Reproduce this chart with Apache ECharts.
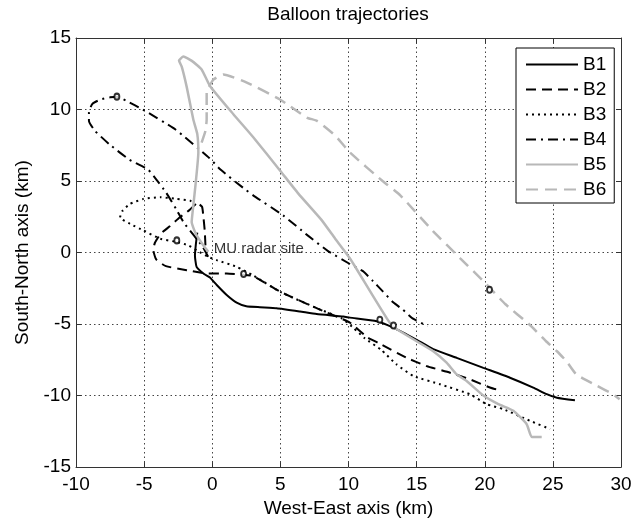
<!DOCTYPE html>
<html>
<head>
<meta charset="utf-8">
<script src="https://cdn.jsdelivr.net/npm/echarts@6/dist/echarts.min.js"></script>
<style>
html,body{margin:0;padding:0;background:#fff;}
#chart{width:644px;height:523px;}
</style>
</head>
<body>
<div id="chart"></div>
<script>
const seriesNames = ['B1','B2','B3','B4','B5','B6'];
const xTicks = [-10,-5,0,5,10,15,20,25,30];
const yTicks = [-15,-10,-5,0,5,10,15];

const b1 = [[-1.1,1.4],[-1.2,0.6],[-1.27,-0.2],[-1.15,-1.0],[-0.6,-1.5],[-0.17,-1.75],[0.33,-2.27],[1.06,-2.97],[1.79,-3.5],[2.5,-3.75],[3.5,-3.82],[4.73,-3.89],[6.44,-4.12],[7.66,-4.3],[9.62,-4.47],[10.1,-4.55],[12.07,-4.8],[13.29,-5.25],[15.0,-6.1],[16.22,-6.75],[17.94,-7.36],[19.9,-8.06],[21.85,-8.75],[23.56,-9.44],[24.55,-9.9],[25.3,-10.15],[26.62,-10.33]];

const b2 = [[-0.5,0.5],[-0.55,1.5],[-0.65,2.5],[-0.75,3.2],[-1.1,3.45],[-1.7,2.95],[-2.4,2.45],[-3.1,1.85],[-3.8,1.3],[-4.2,0.7],[-4.33,0.2],[-4.1,-0.5],[-3.4,-0.95],[-1.88,-1.23],[-0.41,-1.46],[1.06,-1.46],[2.28,-1.55],[3.01,-1.65],[4.97,-2.73],[7.66,-3.89],[10.1,-4.9],[11.34,-5.9],[12.19,-6.32],[14.27,-7.36],[15.74,-7.94],[17.45,-8.4],[18.92,-8.87],[20.88,-9.56],[21.24,-9.56]];

const b3 = [[-1.2,3.3],[-1.63,3.63],[-2.61,3.75],[-3.83,3.87],[-5.06,3.75],[-6.04,3.4],[-6.6,2.9],[-6.77,2.45],[-6.04,2.01],[-5.06,1.55],[-3.83,0.97],[-2.61,0.74],[-1.76,0.51],[-1.14,0.16],[-0.3,-0.3],[0.33,-0.53],[1.8,-1.0],[3.0,-1.6],[5.0,-2.75],[7.7,-3.9],[9.5,-4.6],[10.4,-5.3],[11.2,-6.0],[12.4,-6.8],[13.5,-7.8],[14.76,-8.63],[16.72,-9.21],[18.92,-9.91],[20.14,-10.6],[21.36,-10.95],[23.32,-11.76],[24.79,-12.34]];

const b4 = [[-0.3,-0.3],[-0.7,0.4],[-1.1,0.9],[-1.6,1.5],[-2.1,2.1],[-2.66,3.06],[-3.4,4.21],[-4.13,5.14],[-4.74,5.83],[-6.09,6.5],[-7.55,7.57],[-8.6,8.5],[-9.05,9.2],[-9.05,9.8],[-8.8,10.4],[-8.2,10.7],[-7.5,10.85],[-7.0,10.9],[-6.3,10.6],[-5.1,10.0],[-2.7,8.6],[-0.2,6.6],[0.6,5.8],[2.3,4.5],[3.0,4.0],[5.2,2.6],[7.0,1.2],[8.5,0.1],[10.1,-0.8],[11.06,-1.3],[11.8,-2.0],[12.5,-2.7],[13.3,-3.5],[14.0,-4.0],[14.7,-4.6],[15.8,-5.15]];

const b5 = [[-0.29,0.05],[-0.66,0.51],[-1.2,1.3],[-1.51,2.13],[-1.39,3.28],[-1.2,5.0],[-1.02,7.0],[-1.1,8.3],[-1.39,9.3],[-1.88,11.6],[-2.24,13.0],[-2.44,13.42],[-2.12,13.7],[-1.5,13.4],[-0.78,12.8],[-0.17,11.65],[1.55,9.67],[3.01,8.06],[4.97,5.74],[6.32,4.12],[8.0,2.3],[9.0,1.0],[10.1,-0.4],[11.58,-2.7],[12.8,-4.58],[13.29,-5.2],[13.78,-5.5],[15.0,-6.2],[16.22,-6.9],[17.2,-7.7],[17.94,-8.52],[18.67,-8.98],[19.9,-10.0],[21.0,-10.6],[22.1,-11.06],[23.08,-12.0],[23.45,-12.9],[24.18,-12.9]];

const b6 = [[-0.78,7.69],[-0.5,8.5],[-0.41,9.3],[-0.41,10.4],[-0.41,11.2],[0.08,12.08],[0.81,12.45],[2.5,11.9],[4.97,10.7],[6.93,9.44],[7.7,9.2],[9.0,8.2],[10.1,7.0],[12.5,5.0],[13.8,4.0],[16.2,1.5],[18.2,-0.4],[19.9,-2.0],[20.4,-2.5],[21.5,-3.6],[23.3,-5.05],[24.5,-6.2],[25.3,-6.9],[26.0,-7.6],[26.7,-8.5],[28.2,-9.3],[29.4,-9.9],[29.9,-10.25]];

const markerPoints = [[-7.0,10.9],[-2.6,0.85],[2.3,-1.5],[12.3,-4.7],[13.3,-5.1],[20.35,-2.6]];
const siteLabel = 'MU radar site';
const sitePoint = [[0,0]];

const FONT = 'Liberation Sans, Arial, sans-serif';
const chart = echarts.init(document.getElementById('chart'), null, {renderer:'canvas'});

const baseX = {
  type:'value', min:xTicks[0], max:xTicks[xTicks.length-1], interval:5,
  axisLine:{show:true, onZero:false, lineStyle:{color:'#333', width:1}},
  axisTick:{show:true, inside:true, length:5, lineStyle:{color:'#333'}},
  splitLine:{show:false}
};
const baseY = {
  type:'value', min:yTicks[0], max:yTicks[yTicks.length-1], interval:5,
  axisLine:{show:true, onZero:false, lineStyle:{color:'#333', width:1}},
  axisTick:{show:true, inside:true, length:5, lineStyle:{color:'#333'}},
  splitLine:{show:false}
};

function lineSeries(name, data, color, width, type){
  return {
    name:name, type:'line', data:data, symbol:'none', showSymbol:false, smooth:0.15,
    xAxisIndex:0, yAxisIndex:0,
    lineStyle:{color:color, width:width, type:type},
    itemStyle:{color:color},
    emphasis:{disabled:true}, silent:true
  };
}

const option = {
  animation:false,
  backgroundColor:'#fff',
  textStyle:{fontFamily:FONT},
  graphic:[{
    type:'text', x:348, y:5,
    style:{text:'Balloon trajectories', fontSize:19, fontFamily:FONT, fill:'#000', align:'center', textAlign:'center'}
  }],
  grid:{left:76, right:23, top:38, bottom:53, containLabel:false},
  xAxis:[
    Object.assign({}, baseX, {
      position:'bottom',
      name:'West-East axis (km)', nameLocation:'middle', nameGap:30,
      nameTextStyle:{fontSize:19, color:'#000', fontFamily:FONT},
      axisLabel:{show:true, fontSize:19, color:'#000', margin:8, fontFamily:FONT},
      splitLine:{show:true, lineStyle:{color:'#444', width:1, type:[1.5,3]}}
    }),
    Object.assign({}, baseX, {position:'top', axisLabel:{show:false}})
  ],
  yAxis:[
    Object.assign({}, baseY, {
      position:'left',
      name:'South-North axis (km)', nameLocation:'middle', nameGap:44, nameRotate:90,
      nameTextStyle:{fontSize:19, color:'#000', fontFamily:FONT},
      axisLabel:{show:true, fontSize:19, color:'#000', margin:5, fontFamily:FONT},
      splitLine:{show:true, lineStyle:{color:'#444', width:1, type:[1.5,3]}}
    }),
    Object.assign({}, baseY, {position:'right', axisLabel:{show:false}})
  ],
  legend:{
    data:seriesNames,
    orient:'vertical', left:516, top:48,
    itemWidth:52, itemHeight:14, itemGap:6,
    padding:[7,8,4,9],
    backgroundColor:'#fff', borderColor:'#000', borderWidth:1,
    itemStyle:{opacity:0},
    textStyle:{fontSize:19, color:'#000', fontFamily:FONT},
    selectedMode:false
  },
  series:[
    lineSeries(seriesNames[0], b1, '#000', 2, 'solid'),
    lineSeries(seriesNames[1], b2, '#000', 2, [10,6]),
    lineSeries(seriesNames[2], b3, '#000', 2, [2,4]),
    lineSeries(seriesNames[3], b4, '#000', 2, [10,5,2,5]),
    lineSeries(seriesNames[4], b5, '#b8b8b8', 2.5, 'solid'),
    lineSeries(seriesNames[5], b6, '#b8b8b8', 2.5, [12,7]),
    {
      type:'scatter', data:markerPoints, symbol:'emptyCircle', symbolSize:[5,6],
      itemStyle:{color:'#000', borderColor:'#000', borderWidth:1},
      silent:true, z:5
    },
    {
      type:'scatter', data:sitePoint, symbolSize:1,
      itemStyle:{color:'rgba(0,0,0,0)'},
      label:{show:true, formatter:siteLabel, position:'right', distance:1, offset:[0,-4],
        fontSize:15, color:'#000', fontFamily:FONT},
      silent:true, z:6
    }
  ]
};
chart.setOption(option);
</script>
</body>
</html>
